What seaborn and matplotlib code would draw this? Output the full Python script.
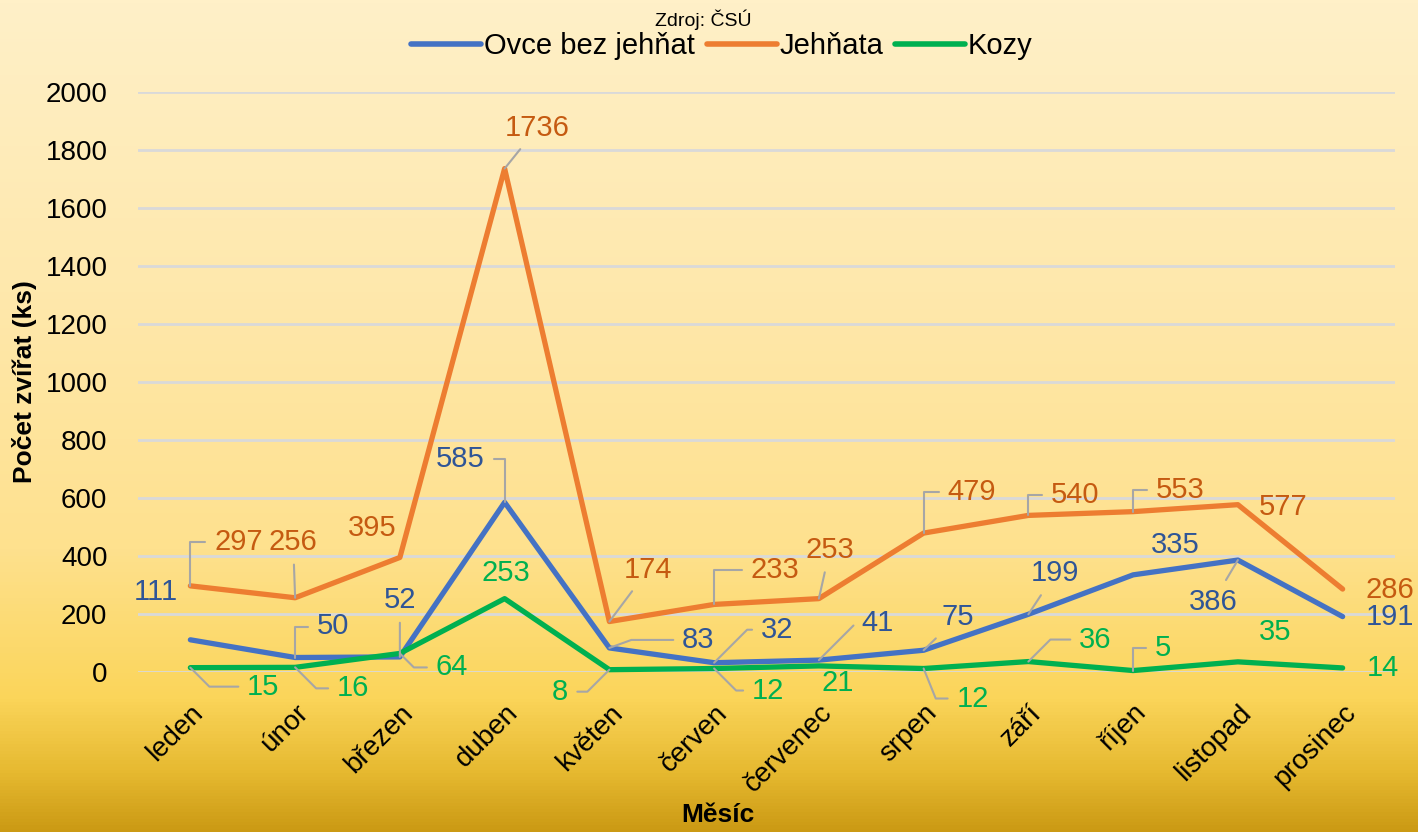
import numpy as np
import pandas as pd
import matplotlib
matplotlib.use("Agg")
import matplotlib.pyplot as plt
import seaborn as sns
from matplotlib.colors import LinearSegmentedColormap
from matplotlib.lines import Line2D

# data
months = ["leden", "únor", "březen", "duben", "květen", "červen",
          "červenec", "srpen", "září", "říjen", "listopad", "prosinec"]
ovce = [111, 50, 52, 585, 83, 32, 41, 75, 199, 335, 386, 191]
jehnata = [297, 256, 395, 1736, 174, 233, 253, 479, 540, 553, 577, 286]
kozy = [15, 16, 64, 253, 8, 12, 21, 12, 36, 5, 35, 14]
# data labels as printed in the chart
ovce_labels = [111, 50, 52, 585, 83, 32, 41, 75, 199, 335, 386, 191]
jehnata_labels = [297, 256, 395, 1736, 174, 233, 253, 479, 540, 553, 577, 286]
kozy_labels = [15, 16, 64, 253, 8, 12, 21, 12, 36, 5, 35, 14]

series_names = ["Ovce bez jehňat", "Jehňata", "Kozy"]

df = pd.DataFrame({
    "Měsíc": months * 3,
    "pos": list(range(12)) * 3,
    "value": ovce + jehnata + kozy,
    "series": [series_names[0]] * 12 + [series_names[1]] * 12 + [series_names[2]] * 12,
})

line_colors = {"Ovce bez jehňat": "#4472C4", "Jehňata": "#ED7D31", "Kozy": "#00B050"}
label_colors = {"Ovce bez jehňat": "#2F5597", "Jehňata": "#C55A11", "Kozy": "#00B050"}

# label offsets in pixels (dx, dy) and leader style
E = "angle,angleA=0,angleB=90,rad=0"    # vertical + horizontal
D = "angle,angleA=0,angleB=45,rad=0"    # diagonal + horizontal
Dn = "angle,angleA=0,angleB=-45,rad=0"
S = "arc3,rad=0"                        # straight
offs = {
    "Jehňata": [(48, 44, E), (-2, 56, S), (-28, 29, None), (33, 41, S), (39, 52, S),
                (61, 34, E), (11, 49, S), (48, 41, E), (47, 20, E), (47, 22, E),
                (45, -2, None), (47, -1, None)],
    "Ovce bez jehňat": [(-35, 48, None), (38, 31, E), (0, 57, S), (-44, 43, E), (89, 8, "angle,angleA=0,angleB=20,rad=0"),
                        (63, 33, D), (59, 37, D), (34, 33, S), (27, 41, S), (42, 30, None),
                        (-25, -42, S), (47, 0, None)],
    "Kozy": [(73, -19, Dn), (58, -21, Dn), (52, -14, Dn), (1, 26, None), (-49, -22, D),
             (54, -22, Dn), (19, -17, None), (49, -30, "angle,angleA=0,angleB=-68,rad=0"), (67, 22, D), (30, 23, E),
             (37, 30, None), (40, 0, None)],
}
labels = {"Ovce bez jehňat": ovce_labels, "Jehňata": jehnata_labels, "Kozy": kozy_labels}

sns.set_theme(style="white")
plt.rcParams["font.family"] = ["Liberation Sans", "DejaVu Sans"]
plt.rcParams["text.color"] = "black"
plt.rcParams["axes.labelcolor"] = "black"

fig = plt.figure(figsize=(14.18, 8.32), dpi=100)

# gradient background
bg = fig.add_axes([0, 0, 1, 1], zorder=-10)
cmap = LinearSegmentedColormap.from_list("bg", [
    (0.0, "#FFF0C8"), (0.35, "#FEE8AC"), (0.66, "#FEE18E"),
    (0.84, "#FBD55A"), (0.93, "#E6B930"), (1.0, "#CB9A14")])
bg.imshow(np.linspace(0, 1, 256).reshape(-1, 1), aspect="auto", cmap=cmap,
          extent=[0, 1, 0, 1], origin="upper")
bg.axis("off")

ax = fig.add_axes([138 / 1418, 1 - 672 / 832, (1395 - 138) / 1418, (672 - 92) / 832])
ax.patch.set_alpha(0)

sns.lineplot(data=df, x="pos", y="value", hue="series", palette=line_colors,
             linewidth=3.8, ax=ax, legend=False, clip_on=False, zorder=3)
for ln in ax.lines:
    ln.set_solid_capstyle("round")
    ln.set_solid_joinstyle("round")

ax.set_xlim(-0.5, 11.5)
ax.set_ylim(0, 2000)
ax.set_yticks(range(0, 2001, 200))
ax.yaxis.grid(True, color="#D9D9D9", linewidth=2, zorder=0)
ax.set_axisbelow(True)
for s in ax.spines.values():
    s.set_visible(False)
ax.tick_params(axis="y", labelsize=20, labelcolor="black", pad=22, length=0)
ax.set_xticks(range(12))
ax.set_xticklabels(months, rotation=45, ha="right", rotation_mode="anchor", fontsize=20)
ax.tick_params(axis="x", length=0, pad=20, labelcolor="black")
ax.set_xlabel("Měsíc", fontsize=19, fontweight="bold")
ax.set_ylabel("Počet zvířat (ks)", fontsize=19, fontweight="bold")
ax.xaxis.set_label_coords((718 - 138) / 1257, -(803 - 672) / 580)
ax.yaxis.set_label_coords((37 - 138) / 1257, 0.5)

values = {"Ovce bez jehňat": ovce, "Jehňata": jehnata, "Kozy": kozy}
for name in series_names:
    for i, v in enumerate(values[name]):
        dx, dy, style = offs[name][i]
        arrow = None
        if style is not None:
            arrow = dict(arrowstyle="-", color="#A6A6A6", lw=1.5,
                         connectionstyle=style, shrinkA=4, shrinkB=0)
        ax.annotate(str(labels[name][i]), xy=(i, v), xytext=(dx, dy),
                    textcoords="offset pixels", ha="center", va="center",
                    fontsize=21, color=label_colors[name], arrowprops=arrow,
                    annotation_clip=False, zorder=5)

# legend
handles = [Line2D([], [], color=line_colors[n], lw=4, solid_capstyle="round") for n in series_names]
fig.legend(handles, series_names, loc="center", bbox_to_anchor=(722 / 1418, 1 - 46 / 832),
           ncol=3, frameon=False, fontsize=21, handlelength=2.4, handletextpad=0.1,
           columnspacing=0.4, labelcolor="black")
fig.text(703 / 1418, 1 - 20 / 832, "Zdroj: ČSÚ", ha="center", va="center", fontsize=14)

fig.savefig("out.png", dpi=100)
